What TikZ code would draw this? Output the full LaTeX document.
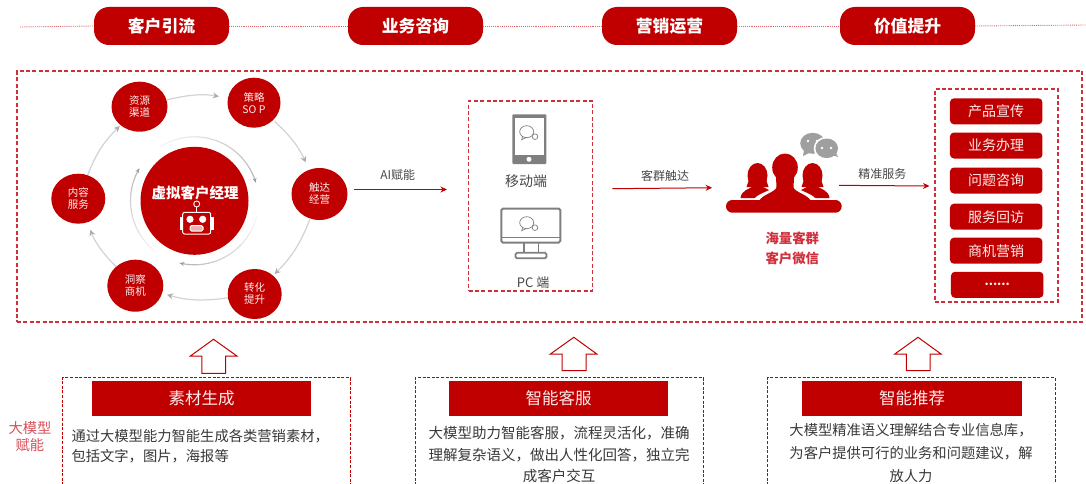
\documentclass[tikz,border=0pt]{standalone}
\usepackage{fontspec}
\setmainfont{Noto Sans CJK SC}
\usetikzlibrary{arrows.meta,shapes.geometric,calc}
\definecolor{cred}{HTML}{C00000}
\definecolor{dashred}{HTML}{D0303C}
\definecolor{arcgray}{HTML}{D2D2D2}
\definecolor{icongray}{HTML}{7F7F7F}
\newcommand{\fsz}[2]{\fontsize{#1}{#2}\selectfont}
\newcommand{\fadearc}[2]{%
  \foreach \i in {0,...,23}{%
    \pgfmathsetmacro{\pp}{4+\i*1.1}%
    \pgfmathsetmacro{\aa}{#1+(#2-#1)*\i/24}%
    \pgfmathsetmacro{\bb}{#1+(#2-#1)*(\i+1)/24+0.3}%
    \draw[line width=1.1pt,color=black!\pp] ($(cm)+(\aa:64)$) arc[start angle=\aa,end angle=\bb,radius=64];
  }%
  \pgfmathsetmacro{\cc}{#2-1}%
  \draw[line width=0.8pt,color=black!40,-{Stealth[length=4pt,width=4pt]}] ($(cm)+(\cc:64)$) arc[start angle=\cc,end angle=#2,radius=64];
}
\newcommand{\chatglyph}[2]{%
  \draw[icongray,line width=0.7pt,fill=white] (#1-4,#2+4.5) -- (#1-5,#2+8) -- (#1,#2+5.5);
  \draw[icongray,line width=0.7pt] (#1,#2) ellipse[x radius=7,y radius=6];
  \draw[icongray,line width=0.7pt,fill=white] (#1+8.3,#2+5) circle[radius=2.8];
}
\tikzset{
  x=1pt,y=-1pt,
  pill/.style={draw=none,fill=cred,rounded corners=15pt,minimum width=135pt,minimum height=38pt,inner sep=0pt,text=white,font=\bfseries\fsz{16.8}{19}},
  topline/.style={draw=dashred!75,line width=0.9pt,densely dotted},
  dashbox/.style={draw=dashred,line width=1.1pt,dash pattern=on 4pt off 2.4pt},
  finedash/.style={draw=cred,line width=1.3pt,dash pattern=on 3pt off 1.6pt},
  stage/.style={ellipse,fill=cred,inner sep=0pt,text=white!92!red,align=center,font=\fsz{10.5}{12}},
  cycle/.style={draw=arcgray,line width=1.2pt,-{Stealth[length=6pt,width=6pt,color=black!32]}},
  redarrow/.style={draw=cred,line width=1pt,-{Stealth[length=6.5pt,width=6pt]}},
  label/.style={inner sep=0pt,text=black!72,font=\fsz{12}{14}},
  service/.style={fill=cred,rounded corners=4pt,minimum width=92.5pt,minimum height=26pt,inner sep=0pt,text=white!92!red,font=\fsz{14}{16}},
  header/.style={fill=cred,inner sep=0pt,minimum height=35pt,text=white!92!red,font=\fsz{16.5}{19}},
  body/.style={inner sep=0pt,text=black!78,font=\fsz{14}{20}},
  uparrow/.style={draw=cred,line width=1pt,fill=white,line join=miter},
}
\begin{document}
\begin{tikzpicture}
\useasboundingbox (0,0) rectangle (1086,484);
\clip (0,0) rectangle (1086,484);
% top band
\coordinate (ts) at (20,27);
\coordinate (te) at (1086,25);
\node[pill] (p1) at (161.5,26) {客户引流};
\node[pill] (p2) at (415.5,26) {业务咨询};
\node[pill] (p3) at (669.5,26) {营销运营};
\node[pill] (p4) at (907.5,26) {价值提升};
\draw[topline] (ts) -- (p1.west);
\draw[topline] (p1.east) -- (p2.west);
\draw[topline] (p2.east) -- (p3.west);
\draw[topline] (p3.east) -- (p4.west);
\draw[topline] (p4.east) -- (te);
% main frame
\node[dashbox,minimum width=1065pt,minimum height=251pt,inner sep=0pt] (frame) at (549.5,196.5) {};
% centre
\node[circle,fill=cred,minimum size=108pt,inner sep=0pt] (cm) at (194.5,200.8) {};
\node[inner sep=0pt,text=white,font=\bfseries\fsz{14.5}{16}] (cmt) at (195,193) {虚拟客户经理};
\fadearc{-122}{-17}
\fadearc{14}{103}
\fadearc{128}{210}
% robot
\begin{scope}[white]
\draw[line width=0.9pt] (196.7,204) circle[radius=3];
\draw[line width=0.9pt] (196.7,207) -- (196.7,212.3);
\fill (179.5,217) rectangle (182.7,229.5);
\fill (210.7,217) rectangle (214,229.5);
\draw[line width=1pt,rounded corners=2pt] (182.7,212.3) rectangle (210.7,234);
\fill (190,219.3) circle[radius=3.6];
\fill (202.7,219.3) circle[radius=3.6];
\draw[line width=1pt,rounded corners=1.5pt,fill=white!70!cred] (190,225.7) rectangle (203,231);
\end{scope}
% cycle
\node[stage,minimum width=56pt,minimum height=50pt] (s1) at (139.5,106.7) {资源\\渠道};
\node[stage,minimum width=53pt,minimum height=50pt] (s2) at (254,102.7) {策略\\SO P};
\node[stage,minimum width=56pt,minimum height=52pt] (s3) at (319.5,194) {触达\\经营};
\node[stage,minimum width=54pt,minimum height=50pt] (s4) at (254.7,294) {转化\\提升};
\node[stage,minimum width=56pt,minimum height=52pt] (s5) at (135.3,285.7) {洞察\\商机};
\node[stage,minimum width=54pt,minimum height=50pt] (s6) at (78.3,198.7) {内容\\服务};
\draw[cycle,shorten >=9pt] (s1) to[bend left=12] (s2);
\draw[cycle,shorten >=8pt,shorten <=2pt] (s2) to[bend left=12] (s3);
\draw[cycle,shorten >=2pt] (s3) to[bend left=12] (s4);
\draw[cycle,shorten >=5pt] (s4) to[bend left=12] (s5);
\draw[cycle,shorten >=8pt] (s5) to[bend left=12] (s6);
\draw[cycle,shorten >=1pt] (s6) to[bend left=12] (s1);
% devices
\node[dashbox,minimum width=124pt,minimum height=190pt,inner sep=0pt] (dev) at (530.5,196) {};
\fill[icongray,rounded corners=1pt] (512.3,114.3) rectangle (546.3,164);
\fill[white] (515,117.7) rectangle (544,155);
\fill[white] (529,159.3) circle[radius=2.5];
\chatglyph{526.7}{131.7}
\node[inner sep=0pt,text=black!72,font=\fsz{14}{16}] (mob) at (526,181.7) {移动端};
\draw[icongray,line width=2pt,rounded corners=1.5pt] (501.3,208.7) rectangle (560.3,242.5);
\draw[icongray,line width=1.6pt] (501.3,237.6) -- (560.3,237.6);
\draw[icongray,line width=1.8pt] (524,243) -- (524,252) (538.5,243) -- (538.5,252);
\draw[icongray,line width=1.8pt,rounded corners=1.5pt] (515.5,252.8) rectangle (546.5,258.3);
\chatglyph{526.7}{222.7}
\node[inner sep=0pt,text=black!72,font=\fsz{13}{15}] (pc) at (533.2,282.3) {PC 端};
% people
\fill[icongray!75] (812.7,143.3) ellipse[x radius=12.5,y radius=10.5];
\fill[icongray!75] (804,150) -- (803,156) -- (811,152) -- cycle;
\fill[white] (826.7,148.3) ellipse[x radius=13,y radius=11.5];
\fill[icongray!75] (826.7,148.3) ellipse[x radius=11.3,y radius=9.8];
\fill[icongray!75] (832,155) -- (838,157) -- (835,151) -- cycle;
\fill[white] (822,148) circle[radius=1.4] (831,148) circle[radius=1.4] (808,141) circle[radius=1.3] (817,141) circle[radius=1.3];
\foreach \px in {757.5,812.5}{
  \fill[cred] (\px,175.5) ellipse[x radius=10,y radius=12.5];
  \fill[cred] (\px-11,187) -- (\px+11,187) -- (\px+8,178) -- (\px-8,178) -- cycle;
  \fill[cred] (\px-17,198) .. controls (\px-16,190) and (\px-8,189) .. (\px-4,186) -- (\px+4,186) .. controls (\px+8,189) and (\px+16,190) .. (\px+17,198) -- cycle;
}
\fill[white] (752,202) .. controls (756,193) and (770,192) .. (775,186) -- (795,186) .. controls (800,192) and (814,193) .. (818,202) -- cycle;
\fill[cred] (785,167.5) ellipse[x radius=12.8,y radius=14];
\fill[cred] (776,175) -- (794,175) -- (793.5,190) -- (776.5,190) -- cycle;
\fill[cred] (759,201) .. controls (763,194) and (774,193) .. (777,187) -- (793,187) .. controls (796,193) and (807,194) .. (811,201) -- cycle;
\node[fill=cred,rounded corners=6.3pt,minimum width=115.7pt,minimum height=12.7pt,inner sep=0pt] (crowd) at (783.85,206.35) {};
\node[inner sep=0pt,align=center,text=dashred,font=\bfseries\fsz{13.4}{20}] (crowdt) at (792.3,248.3) {海量客群\\客户微信};
% services
\node[dashbox,minimum width=123pt,minimum height=213pt,inner sep=0pt] (svc) at (996.5,195.5) {};
\node[service] (v1) at (996.2,111.3) {产品宣传};
\node[service] (v2) at (996.2,145.5) {业务办理};
\node[service] (v3) at (996.2,180.5) {问题咨询};
\node[service] (v4) at (996.2,216.7) {服务回访};
\node[service] (v5) at (996.2,250.7) {商机营销};
\node[service,font=\bfseries\fsz{12}{14}] (v6) at (997.2,284.8) {......};
% horizontal connectors
\node[label] (l1) at (397.7,175) {AI赋能};
\node[label] (l2) at (665,176) {客群触达};
\node[label] (l3) at (882.3,174) {精准服务};
\draw[redarrow] ([shift={(6.5,-4.5)}]s3.east) -- ([shift={(-21,-6.5)}]dev.west);
\draw[redarrow] ([shift={(19.2,-7.3)}]dev.east) -- ([shift={(-13.7,-18.6)}]crowd.west);
\draw[redarrow] ([shift={(-2.7,-21)}]crowd.east) -- ([shift={(-5,-9.5)}]svc.west);
% up arrows
\draw[uparrow] (213.5,339.3) -- (236.9,356) -- (225.5,356) -- (225.5,373.3) -- (201.8,373.3) -- (201.8,356) -- (190.4,356) -- cycle;
\draw[uparrow] (573.8,337.3) -- (596.8,354) -- (586,354) -- (586,370.7) -- (562,370.7) -- (562,354) -- (550.4,354) -- cycle;
\draw[uparrow] (918,337.3) -- (941,354) -- (930,354) -- (930,370.7) -- (906.3,370.7) -- (906.3,354) -- (894.8,354) -- cycle;
% bottom boxes
\draw[finedash] (62.7,490) -- (62.7,377.7) -- (350.7,377.7) -- (350.7,490);
\draw[finedash] (415.2,490) -- (415.2,377.7) -- (703.2,377.7) -- (703.2,490);
\draw[finedash] (767.7,490) -- (767.7,377.7) -- (1055.2,377.7) -- (1055.2,490);
\node[header,minimum width=219pt] (h1) at (201.5,398.5) {素材生成};
\node[header,minimum width=219pt] (h2) at (558.5,398.5) {智能客服};
\node[header,minimum width=220pt] (h3) at (912,398.5) {智能推荐};
\node[body,anchor=west,align=left,font=\fsz{14.3}{19.5}] (t1) at (71.3,446.3) {通过大模型能力智能生成各类营销素材，\\包括文字，图片，海报等};
\node[body,align=center,font=\fsz{14.5}{21.2}] (t2) at (559,454.5) {大模型助力智能客服，流程灵活化，准确\\理解复杂语义，做出人性化回答，独立完\\成客户交互};
\node[body,align=center,font=\fsz{14.3}{22.8}] (t3) at (911,453) {大模型精准语义理解结合专业信息库，\\为客户提供可行的业务和问题建议，解\\放人力};
\node[inner sep=0pt,align=center,text=dashred!85,font=\fsz{14.3}{16.7}] (side) at (30,436.7) {大模型\\赋能};
\end{tikzpicture}
\end{document}
